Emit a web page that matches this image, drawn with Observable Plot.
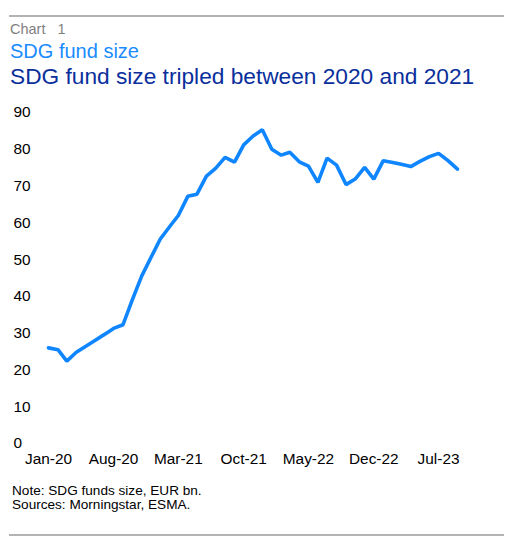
<!DOCTYPE html>
<html lang="en">
<head>
<meta charset="UTF-8">
<title>SDG fund size</title>
<style>
  body {
    margin: 0;
    background: #ffffff;
    font-family: "Liberation Sans", Arial, sans-serif;
  }
  #page {
    position: relative;
    width: 516px;
    height: 551px;
  }
  .rule {
    position: absolute;
    left: 9px;
    width: 495px;
    height: 2px;
    background: #b3b3b3;
  }
  .txt {
    position: absolute;
    left: 10px;
    white-space: pre;
    line-height: 1;
  }
  #chartno { top: 22px; font-size: 14.5px; color: #7f7f7f; }
  #subtitle { top: 41px; font-size: 20px; color: #1a8cff; }
  #title { top: 65px; font-size: 22.7px; color: #0a2f9c; }
  #notes { top: 484px; left: 12px; font-size: 13.6px; line-height: 14px; color: #000; }
  #chart { position: absolute; left: 0; top: 95px; }
</style>
</head>
<body>
<div id="page">
  <div class="rule" style="top:15px"></div>
  <div class="txt" id="chartno">Chart   1</div>
  <div class="txt" id="subtitle">SDG fund size</div>
  <div class="txt" id="title">SDG fund size tripled between 2020 and 2021</div>
  <div id="chart"></div>
  <div class="txt" id="notes">Note: SDG funds size, EUR bn.
Sources: Morningstar, ESMA.</div>
  <div class="rule" style="top:534px"></div>
</div>

<script src="https://cdn.jsdelivr.net/npm/d3@7"></script>
<script src="https://cdn.jsdelivr.net/npm/@observablehq/plot@0.6"></script>
<script>
  // monthly, Jan-20 .. Sep-23, EUR bn
  const startMonth = "2020-01";
  const fundSize = [
    26.0, 25.5, 22.4, 24.8, 26.4, 28.0, 29.6, 31.3, 32.3, 39.0, 45.5, 50.5,
    55.6, 59.0, 62.0, 67.2, 67.8, 72.7, 74.8, 77.8, 76.5, 81.2, 83.6, 85.3,
    80.0, 78.4, 79.2, 76.6, 75.4, 71.0, 77.6, 75.7, 70.4, 71.9, 75.1, 71.9,
    76.9, 76.4, 75.9, 75.3, 76.7, 78.0, 78.9, 76.9, 74.6
  ];
  const tickMonths = ["2020-01", "2020-08", "2021-03", "2021-10", "2022-05", "2022-12", "2023-07"];
  const yTicks = [0, 10, 20, 30, 40, 50, 60, 70, 80, 90];

  const t0 = d3.utcParse("%Y-%m")(startMonth);
  const data = fundSize.map((v, i) => ({date: d3.utcMonth.offset(t0, i), value: v}));
  const ticks = tickMonths.map(d3.utcParse("%Y-%m"));

  const chart = Plot.plot({
    width: 516,
    height: 380,
    marginLeft: 48,
    marginRight: 59,
    marginTop: 17,
    marginBottom: 32,
    style: {fontFamily: "'Liberation Sans', Arial, sans-serif", fontSize: "15.4px", color: "#000"},
    x: {type: "utc", domain: [data[0].date, data[data.length - 1].date]},
    y: {domain: [0, 90]},
    marks: [
      Plot.axisX({ticks: ticks, tickFormat: d3.utcFormat("%b-%y"), tickSize: 0, tickPadding: 10, label: null}),
      Plot.axisY({ticks: yTicks, tickSize: 0, tickPadding: 35, textAnchor: "start", label: null}),
      Plot.line(data, {x: "date", y: "value", stroke: "#0f86ff", strokeWidth: 3.6, strokeLinejoin: "miter"})
    ]
  });
  document.querySelector("#chart").append(chart);
</script>
</body>
</html>
